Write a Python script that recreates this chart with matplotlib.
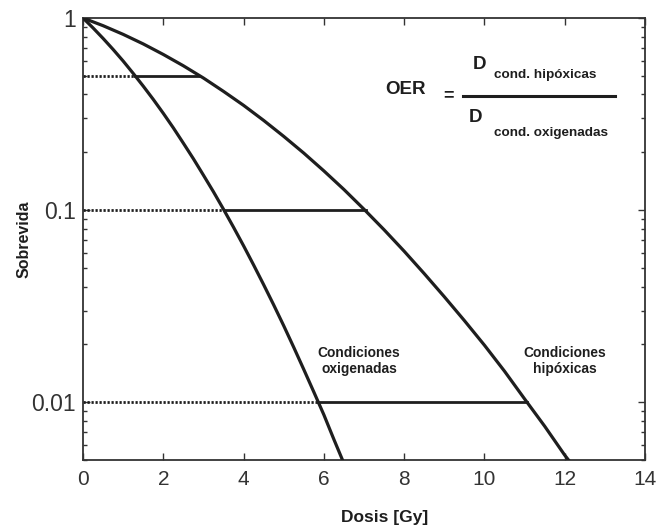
import matplotlib
matplotlib.use('Agg')
import matplotlib.pyplot as plt
from matplotlib.ticker import LogLocator, NullFormatter

plt.rcParams['font.family'] = ['Liberation Sans', 'DejaVu Sans']

# ── datos ──────────────────────────────────────────────────
dosis_oxi = [0, 0.25, 0.5, 0.75, 1.0, 1.25, 1.5, 1.75, 2.0, 2.25, 2.5, 2.75,
             3.0, 3.25, 3.5, 3.75, 4.0, 4.25, 4.5, 4.75, 5.0, 5.25, 5.5,
             5.75, 6.0, 6.25, 6.5, 6.6]
superv_oxi = [1.0, 0.888, 0.783, 0.686, 0.597, 0.515, 0.442, 0.377, 0.319,
              0.268, 0.223, 0.185, 0.152, 0.1245, 0.101, 0.0814, 0.0652,
              0.0518, 0.0409, 0.0321, 0.0250, 0.0193, 0.0148, 0.0113,
              0.0086, 0.0064, 0.0048, 0.0044]

dosis_hip = [0, 0.5, 1, 1.5, 2, 2.5, 3, 3.5, 4, 4.5, 5, 5.5, 6, 6.5, 7, 7.5,
             8, 8.5, 9, 9.5, 10, 10.5, 11, 11.5, 12, 12.3]
superv_hip = [1.0, 0.912, 0.822, 0.733, 0.646, 0.564, 0.487, 0.415, 0.351,
              0.293, 0.242, 0.198, 0.160, 0.128, 0.101, 0.079, 0.0611,
              0.0467, 0.0354, 0.0266, 0.0198, 0.0145, 0.0104, 0.0075,
              0.0053, 0.0044]

niveles = [0.5, 0.1, 0.01]
d_oxi_nivel = [1.3, 3.5, 5.86]
d_hip_nivel = [2.9, 7.05, 11.06]

INK = '#1e1e1e'
AX = '#333333'

W, H = 659, 531
fig = plt.figure(figsize=(W / 100, H / 100), dpi=100)
ax = fig.add_axes([83 / W, 1 - 460 / H, 562 / W, 442 / H])

ax.plot(dosis_oxi, superv_oxi, color=INK, lw=2.3, solid_joinstyle='round', zorder=3)
ax.plot(dosis_hip, superv_hip, color=INK, lw=2.3, solid_joinstyle='round', zorder=3)

for s, d1, d2 in zip(niveles, d_oxi_nivel, d_hip_nivel):
    ax.plot([0, d1], [s, s], color=INK, lw=2.0, linestyle=(0, (0.8, 0.64)), zorder=2)
    ax.plot([d1, d2], [s, s], color=INK, lw=2.0, zorder=2)

ax.set_yscale('log')
ax.set_xlim(0, 14)
ax.set_ylim(0.005, 1)
ax.set_xticks(range(0, 15, 2))
ax.set_yticks([0.01, 0.1, 1])
ax.set_yticklabels(['0.01', '0.1', '1'])
ax.yaxis.set_minor_locator(LogLocator(base=10, subs=range(2, 10)))
ax.yaxis.set_minor_formatter(NullFormatter())

ax.tick_params(which='both', direction='in', top=True, right=True, color=AX)
ax.tick_params(which='major', length=5, width=1)
ax.tick_params(which='minor', length=3, width=1)
ax.tick_params(axis='x', labelsize=15, pad=7, labelcolor=AX)
ax.tick_params(axis='y', labelsize=16.5, pad=5, labelcolor=AX)
for sp in ax.spines.values():
    sp.set_color(AX)
    sp.set_linewidth(1.3)

ax.set_xlabel('Dosis [Gy]', fontsize=12.5, fontweight='bold', color=INK, va='center')
ax.set_ylabel('Sobrevida', fontsize=11.5, fontweight='bold', color=INK, va='center')
ax.xaxis.set_label_coords(0.536, -0.129)
ax.yaxis.set_label_coords(-0.105, 0.5)

ax.text(6.88, 0.0164, 'Condiciones\noxigenadas', ha='center', va='center',
        fontsize=9.9, fontweight='bold', color=INK, linespacing=1.2)
ax.text(12.0, 0.0164, 'Condiciones\nhipóxicas', ha='center', va='center',
        fontsize=9.9, fontweight='bold', color=INK, linespacing=1.2)

# ── fórmula OER (coordenadas en píxeles de figura) ─────────
def px(x, y):
    return x / W, 1 - y / H

fig.text(*px(406, 89), 'OER', ha='center', va='center', fontsize=13.5,
         fontweight='bold', color=INK)
fig.text(*px(448, 96), '=', ha='center', va='center', fontsize=13,
         fontweight='bold', color=INK)
fig.add_artist(plt.Line2D([463 / W, 615 / W], [1 - 96 / H, 1 - 96 / H],
                          color=INK, lw=2.2))
fig.text(*px(480, 65), 'D', ha='center', va='center', fontsize=13.5,
         fontweight='bold', color=INK)
fig.text(*px(494, 75), 'cond. hipóxicas', ha='left', va='center', fontsize=9.7,
         fontweight='bold', color=INK)
fig.text(*px(476, 118), 'D', ha='center', va='center', fontsize=13.5,
         fontweight='bold', color=INK)
fig.text(*px(494, 133), 'cond. oxigenadas', ha='left', va='center', fontsize=9.7,
         fontweight='bold', color=INK)

fig.savefig('out.png', dpi=100, facecolor='white')
